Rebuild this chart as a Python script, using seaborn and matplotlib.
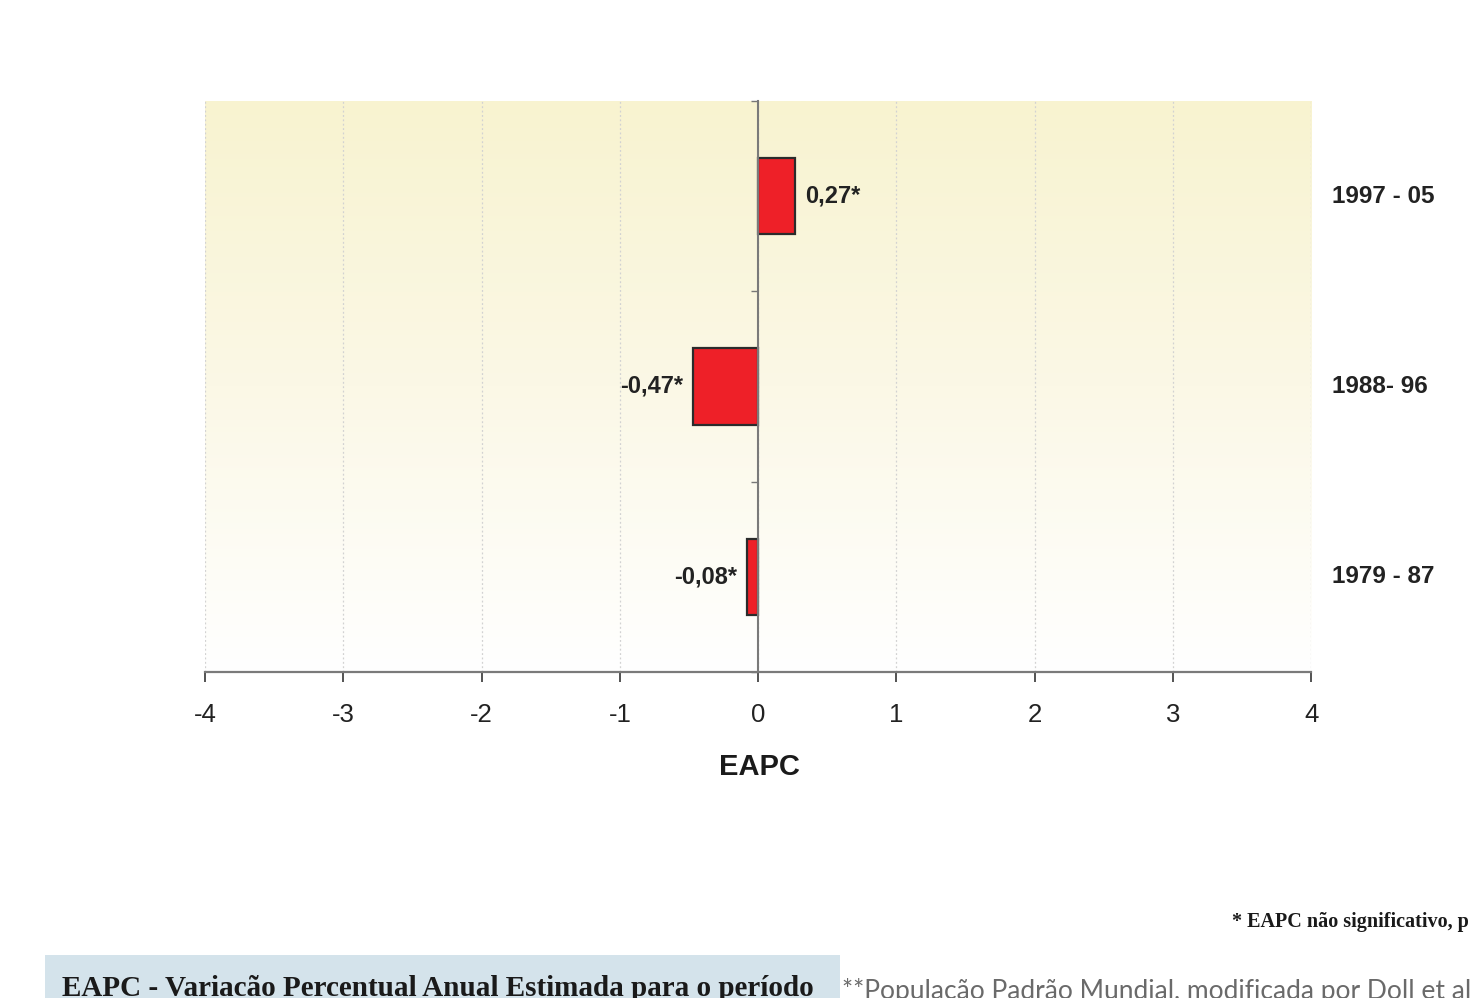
import numpy as np
import matplotlib
matplotlib.use("Agg")
import matplotlib.pyplot as plt
import matplotlib.transforms as mtransforms
from matplotlib.colors import LinearSegmentedColormap
from matplotlib.patches import Rectangle
import pandas as pd
import seaborn as sns

# Estimated annual percent change per period
periods = ["1997 - 05", "1988- 96", "1979 - 87"]
eapc = [0.27, -0.47, -0.08]
eapc_labels = ["0,27*", "-0,47*", "-0,08*"]
x_ticks = [-4, -3, -2, -1, 0, 1, 2, 3, 4]

sns.set_theme(style="white")
plt.rcParams["font.family"] = ["Liberation Sans Narrow", "Liberation Sans", "DejaVu Sans"]

df = pd.DataFrame({"periodo": periods, "EAPC": eapc})

fig = plt.figure(figsize=(14.72, 9.98), dpi=100)
fig.patch.set_facecolor("white")
ax = fig.add_axes([0.1393, 0.3267, 0.7514, 0.5721])

sns.barplot(data=df, x="EAPC", y="periodo", order=periods, orient="h",
            color="#EE2028", saturation=1, width=0.4,
            edgecolor="#2b2b2b", linewidth=1.6, ax=ax, zorder=3)

# pale yellow wash fading to white towards the bottom of the plot area
cmap = LinearSegmentedColormap.from_list("wash", ["#F8F3D0", "#FBF8E6", "#FFFFFF"])
grad = np.linspace(0, 1, 256)[:, None]
ax.imshow(grad, extent=(x_ticks[0], x_ticks[-1], len(periods) - 0.5, -0.5),
          aspect="auto", cmap=cmap, origin="upper", zorder=0)

ax.set_xlim(x_ticks[0], x_ticks[-1])
ax.set_ylim(len(periods) - 0.5, -0.5)
ax.set_xticks(x_ticks)
ax.set_xticklabels([str(t) for t in x_ticks])
ax.set_yticks(np.arange(-0.5, len(periods), 1.0))
ax.set_yticklabels([])
ax.set_xlabel("")
ax.set_ylabel("")
ax.set_facecolor("white")

ax.set_axisbelow(True)
ax.grid(axis="x", color="#d2d2d2", linestyle=(0, (1.5, 2)), linewidth=0.9)
ax.grid(axis="y", visible=False)

for s in ["top", "right"]:
    ax.spines[s].set_visible(False)
ax.spines["left"].set_position(("data", 0))
ax.spines["left"].set_color("#7a7a7a")
ax.spines["left"].set_linewidth(1.5)
ax.spines["left"].set_zorder(4)
ax.spines["bottom"].set_color("#7a7a7a")
ax.spines["bottom"].set_linewidth(1.6)

ax.tick_params(axis="x", bottom=True, direction="out", length=7, width=1.3,
               color="#444444", labelsize=18.5, labelcolor="#222222", pad=15.5)
ax.tick_params(axis="y", left=True, direction="out", length=5, width=1.0,
               color="#777777")

# value labels at the bar ends
ax.bar_label(ax.containers[0], labels=eapc_labels, padding=7,
             fontsize=17, fontweight="bold", color="#222222")

# period names to the right of the plot area
trans = mtransforms.blended_transform_factory(ax.transAxes, ax.transData)
for i, p in enumerate(periods):
    ax.text(1.019, i, p, transform=trans, ha="left", va="center",
            fontsize=17.5, fontweight="bold", color="#222222")

fig.text(759 / 1472, 1 - 767 / 998, "EAPC", ha="center", va="center",
         fontsize=21, fontweight="bold", color="#1a1a1a")

# notes below the chart
fig.text(1232 / 1472, 1 - 927 / 998, "* EAPC não significativo, p",
         ha="left", va="baseline", fontsize=14.5, fontweight="bold",
         family=["Liberation Serif", "DejaVu Serif"], color="#1a1a1a")

fig.add_artist(Rectangle((45 / 1472, 0), (840 - 45) / 1472, (998 - 955) / 998,
                         transform=fig.transFigure, facecolor="#D4E3EB",
                         edgecolor="none", zorder=0))
fig.text(62 / 1472, 1 - 996 / 998,
         "EAPC - Variacão Percentual Anual Estimada para o período",
         ha="left", va="baseline", fontsize=21, fontweight="bold",
         family=["Liberation Serif", "DejaVu Serif"], color="#1a1a1a", zorder=2)
fig.text(842 / 1472, 1 - 999 / 998,
         "**Populacão Padrão Mundial, modificada por Doll et al",
         ha="left", va="baseline", fontsize=19,
         family=["Lato", "DejaVu Sans"], color="#6a6a6a")

fig.savefig("out.png", dpi=100, facecolor="white")
